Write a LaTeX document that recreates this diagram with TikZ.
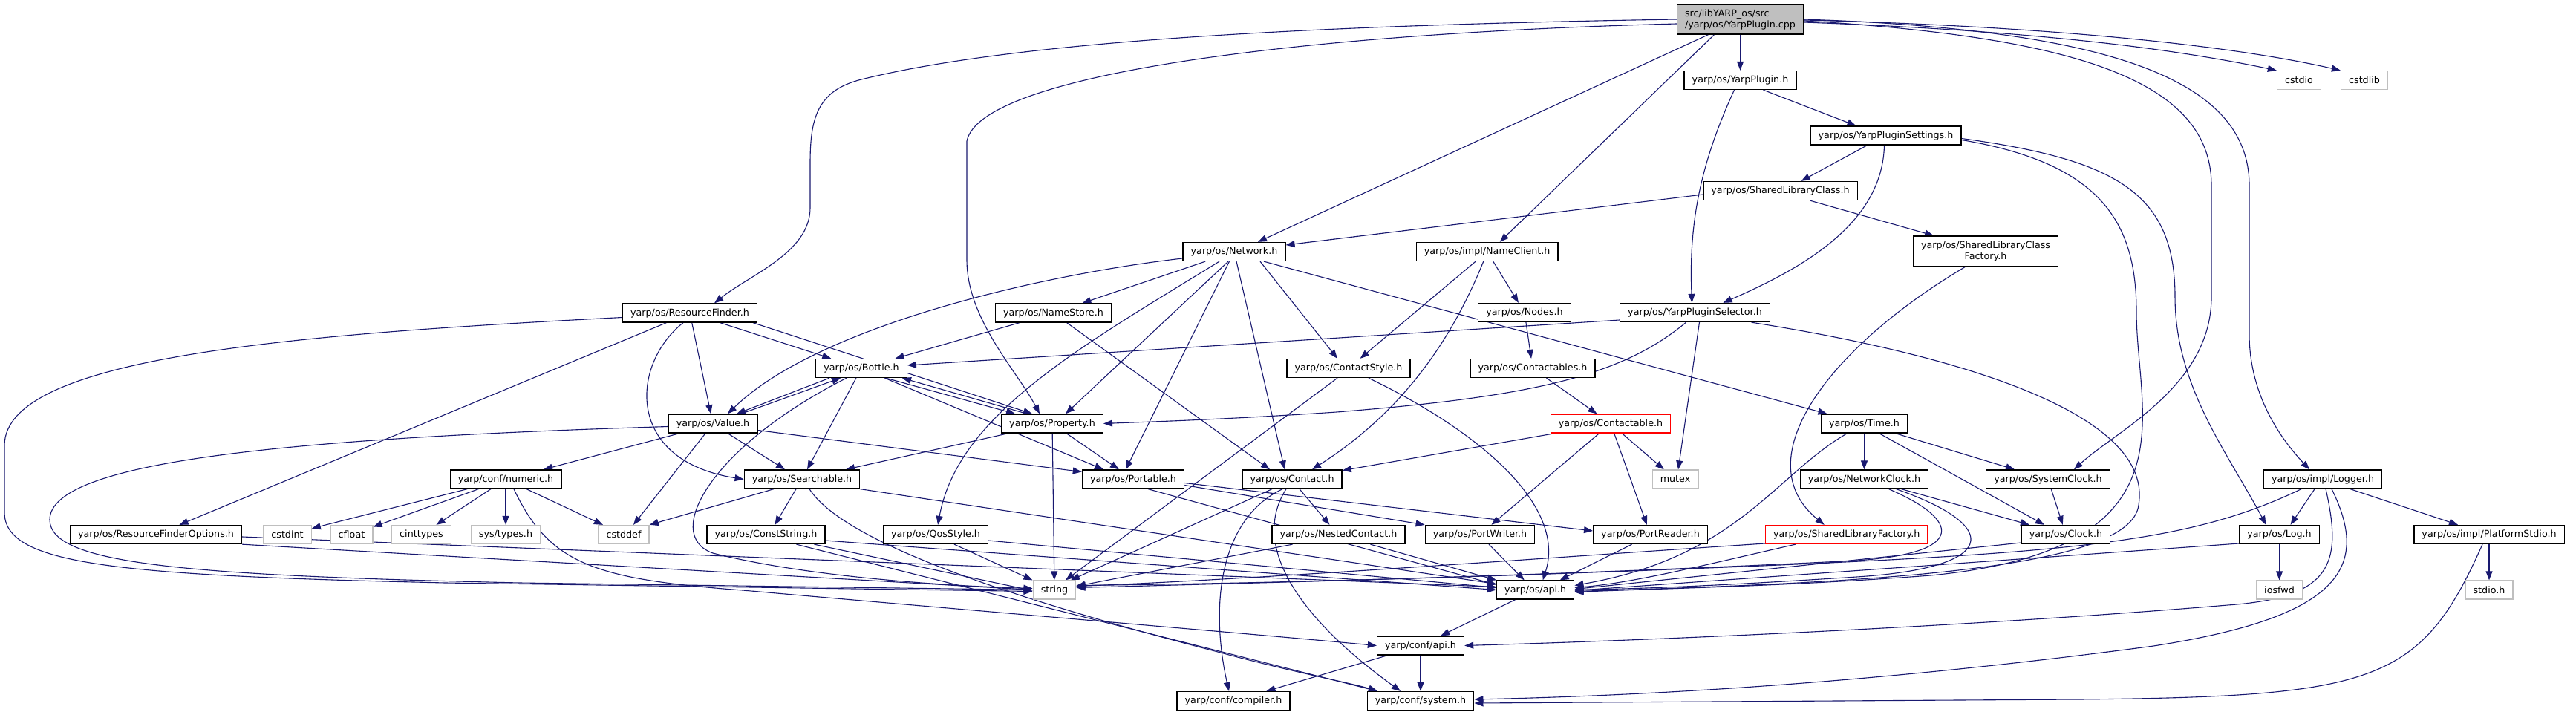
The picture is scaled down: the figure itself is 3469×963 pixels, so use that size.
\documentclass[tikz,border=0pt]{standalone}
\usepackage{fontspec}
\setmainfont{DejaVu Sans}
\usetikzlibrary{arrows.meta}
\definecolor{edgec}{HTML}{191970}
\definecolor{extgray}{HTML}{BFBFBF}
\pgfdeclarelayer{bg}
\pgfsetlayers{bg,main}
\begin{document}
\begin{tikzpicture}[x=1pt,y=-1pt,
  box/.style={draw=black, fill=white, line width=1.3pt, font=\fontsize{12.7}{15}\selectfont, inner xsep=10.6pt, inner ysep=0pt, minimum height=25pt},
  ext/.style={box, draw=extgray},
  trunc/.style={box, draw=red},
  rootbox/.style={box, fill=extgray, align=left, minimum height=40pt},
  twoline/.style={box, align=center, minimum height=41pt},
  e/.style={draw=edgec, line width=1.1pt, -{Triangle[length=12pt,width=9pt]}}]
\useasboundingbox (0,0) rectangle (3469,963);
% ---------- nodes ----------
\node[rootbox] (root) at (2343.5,26) {src/libYARP\_os/src\\/yarp/os/YarpPlugin.cpp};
\node[box] (YarpPlugin) at (2343.5,108) {yarp/os/YarpPlugin.h};
\node[ext] (cstdio) at (3096,108) {cstdio};
\node[ext] (cstdlib) at (3184,108) {cstdlib};
\node[box] (YPSettings) at (2539.5,182.5) {yarp/os/YarpPluginSettings.h};
\node[box] (SLClass) at (2397.5,257) {yarp/os/SharedLibraryClass.h};
\node[box] (Network) at (1662,339) {yarp/os/Network.h};
\node[box] (NameClient) at (2002.7,339) {yarp/os/impl/NameClient.h};
\node[twoline] (SLCFactory) at (2674,338.5) {yarp/os/SharedLibraryClass\\Factory.h};
\node[box] (RF) at (929,421.5) {yarp/os/ResourceFinder.h};
\node[box] (NameStore) at (1418.5,421.5) {yarp/os/NameStore.h};
\node[box] (Nodes) at (2053,421) {yarp/os/Nodes.h};
\node[box] (YPSelector) at (2282.5,421) {yarp/os/YarpPluginSelector.h};
\node[box] (Bottle) at (1160,496) {yarp/os/Bottle.h};
\node[box] (ContactStyle) at (1816,496) {yarp/os/ContactStyle.h};
\node[box] (Contactables) at (2064,496) {yarp/os/Contactables.h};
\node[box] (Value) at (960,570.5) {yarp/os/Value.h};
\node[box] (Property) at (1417,570.5) {yarp/os/Property.h};
\node[trunc] (Contactable) at (2169,570.5) {yarp/os/Contactable.h};
\node[box] (Time) at (2510.5,570.5) {yarp/os/Time.h};
\node[box] (numeric) at (681,645.5) {yarp/conf/numeric.h};
\node[box] (Searchable) at (1080,645.5) {yarp/os/Searchable.h};
\node[box] (Portable) at (1526,645.5) {yarp/os/Portable.h};
\node[box] (Contact) at (1740,645.5) {yarp/os/Contact.h};
\node[ext] (mutex) at (2256,645.5) {mutex};
\node[box] (NetworkClock) at (2510.5,645.5) {yarp/os/NetworkClock.h};
\node[box] (SystemClock) at (2758,645.5) {yarp/os/SystemClock.h};
\node[box] (Logger) at (3128,645.5) {yarp/os/impl/Logger.h};
\node[box] (RFOptions) at (210,720) {yarp/os/ResourceFinderOptions.h};
\node[ext] (cstdint) at (387,720) {cstdint};
\node[ext] (cfloat) at (473.5,720) {cfloat};
\node[ext] (cinttypes) at (567.5,720) {cinttypes};
\node[ext] (systypes) at (681,720) {sys/types.h};
\node[ext] (cstddef) at (840,720) {cstddef};
\node[box] (ConstString) at (1031.5,720) {yarp/os/ConstString.h};
\node[box] (QosStyle) at (1260,720) {yarp/os/QosStyle.h};
\node[box] (NestedContact) at (1802.5,720) {yarp/os/NestedContact.h};
\node[box] (PortWriter) at (1993,720) {yarp/os/PortWriter.h};
\node[box] (PortReader) at (2222.5,720) {yarp/os/PortReader.h};
\node[trunc] (SLFactory) at (2486.7,720) {yarp/os/SharedLibraryFactory.h};
\node[box] (Clock) at (2782,720) {yarp/os/Clock.h};
\node[box] (Log) at (3069.5,720) {yarp/os/Log.h};
\node[box] (PlatformStdio) at (3352,720) {yarp/os/impl/PlatformStdio.h};
\node[ext] (string) at (1420,794.5) {string};
\node[box] (api) at (2067.7,794.5) {yarp/os/api.h};
\node[ext] (iosfwd) at (3069.5,794.5) {iosfwd};
\node[ext] (stdioh) at (3352,794.5) {stdio.h};
\node[box] (confapi) at (1913,869.5) {yarp/conf/api.h};
\node[box] (compiler) at (1661,944) {yarp/conf/compiler.h};
\node[box] (system) at (1913,944) {yarp/conf/system.h};
% ---------- edges ----------
\begin{pgfonlayer}{bg}
\fill[white] (0,0) rectangle (3469,963);
% root
\draw[e] (root.west) .. controls (1700,35) and (1350,60) .. (1160,107) .. controls (1100,122) and (1091,160) .. (1091,220) -- (1091,280) .. controls (1091,340) and (1010,370) .. ([xshift=33pt]RF.north);
\draw[e] ([yshift=-6pt]root.west) .. controls (1750,45) and (1320,100) .. (1302,190) -- (1302,350) .. controls (1302,430) and (1370,500) .. ([xshift=-17pt]Property.north);
\draw[e] ([xshift=-43pt]root.south) -- ([xshift=32pt]Network.north);
\draw[e] ([xshift=-35pt]root.south) -- ([xshift=17pt]NameClient.north);
\draw[e] (root) -- (YarpPlugin);
\draw[e] ([yshift=-4pt]root.east) .. controls (2700,40) and (2900,60) .. (cstdio.north west);
\draw[e] ([yshift=-1pt]root.east) .. controls (2750,35) and (3000,60) .. (cstdlib.north west);
\draw[e] ([yshift=-2pt]root.east) .. controls (2800,50) and (2978,110) .. (2978,250) -- (2978,400) .. controls (2978,520) and (2850,580) .. ([xshift=35pt]SystemClock.north);
\draw[e] (root.east) .. controls (2850,40) and (3029,110) .. (3029,250) -- (3029,450) .. controls (3029,540) and (3080,600) .. ([xshift=-18pt]Logger.north);
% YarpPlugin
\draw[e] ([xshift=31pt]YarpPlugin.south) -- ([xshift=-40pt]YPSettings.north);
\draw[e] ([xshift=-8pt]YarpPlugin.south) .. controls (2290,220) and (2274,300) .. ([xshift=-4pt]YPSelector.north);
% YarpPluginSettings
\draw[e] ([xshift=-25pt]YPSettings.south) -- ([xshift=28pt]SLClass.north);
\draw[e] ([xshift=-2pt]YPSettings.south) .. controls (2535,300) and (2430,360) .. ([xshift=38pt]YPSelector.north);
\draw[e] ([yshift=-6pt]YPSettings.east) .. controls (2830,220) and (2877,300) .. (2877,420) .. controls (2877,560) and (2960,740) .. (2600,775) .. controls (2400,790) and (2250,792) .. ([yshift=-3pt]api.east);
\draw[e] ([yshift=-4pt]YPSettings.east) .. controls (2850,215) and (2929,260) .. (2929,400) .. controls (2929,520) and (3000,610) .. ([xshift=-18pt]Log.north);
% SharedLibraryClass
\draw[e] ([yshift=-5pt]SLClass.west) -- ([yshift=9pt]Network.east);
\draw[e] ([xshift=40pt]SLClass.south) -- ([xshift=-70pt]SLCFactory.north);
\draw[e] ([xshift=-28pt]SLCFactory.south) .. controls (2460,470) and (2350,620) .. ([xshift=-30pt]SLFactory.north);
% Network
\draw[e] ([yshift=-9pt]Network.west) .. controls (1400,370) and (1100,440) .. ([xshift=20pt]Value.north);
\draw[e] (Network) -- (NameStore);
\draw[e] ([xshift=-20pt]Network.south) .. controls (1450,470) and (1290,560) .. ([xshift=3pt]QosStyle.north);
\draw[e] ([xshift=-8pt]Network.south) -- ([xshift=18pt]Property.north);
\draw[e] (Network) -- ([xshift=-10pt]Portable.north);
\draw[e] (Network) -- ([xshift=-10pt]Contact.north);
\draw[e] ([xshift=35pt]Network.south) -- ([xshift=-15pt]ContactStyle.north);
\draw[e] ([xshift=40pt]Network.south) -- ([xshift=-50pt]Time.north);
% NameClient
\draw[e] (NameClient) -- (ContactStyle);
\draw[e] ([xshift=-5pt]NameClient.south) .. controls (1950,470) and (1880,560) .. ([xshift=27pt]Contact.north);
\draw[e] (NameClient) -- (Nodes);
% ResourceFinder
\draw[e] ([yshift=-6pt]RF.west) .. controls (400,450) and (6,480) .. (6,600) -- (6,690) .. controls (6,760) and (150,775) .. (600,785) -- ([yshift=-2pt]string.west);
\draw[e] (RF) -- (RFOptions);
\draw[e] ([xshift=-9pt]RF.south) .. controls (850,490) and (840,620) .. (Searchable.west);
\draw[e] (RF) -- (Value);
\draw[e] (RF) -- (Bottle);
\draw[e] ([xshift=85pt]RF.south) -- ([xshift=-27pt]Property.north);
% NameStore
\draw[e] (NameStore) -- (Bottle);
\draw[e] (NameStore) -- ([xshift=-30pt]Contact.north);
\draw[e] (Nodes) -- (Contactables);
% YarpPluginSelector
\draw[e] ([yshift=-10pt]YPSelector.west) -- ([yshift=4pt]Bottle.east);
\draw[e] ([xshift=-12pt]YPSelector.south) .. controls (2180,510) and (2050,535) .. (1800,555) .. controls (1650,565) and (1550,568) .. (Property.east);
\draw[e] ([xshift=6pt]YPSelector.south) -- ([xshift=4pt]mutex.north);
\draw[e] ([xshift=76pt]YPSelector.south) .. controls (2650,480) and (2900,560) .. (2880,680) .. controls (2870,770) and (2500,785) .. ([yshift=-2pt]api.east);
% Bottle
\draw[e] ([xshift=-43pt]Bottle.south) -- ([xshift=32pt]Value.north);
\draw[e] ([xshift=38pt]Value.north) -- ([xshift=-28pt]Bottle.south);
\draw[e] ([xshift=33pt]Bottle.south) -- ([xshift=-50pt]Property.north);
\draw[e] ([xshift=-34pt]Property.north) -- ([xshift=55pt]Bottle.south);
\draw[e] (Bottle) -- (Searchable);
\draw[e] (Bottle) -- ([xshift=-40pt]Portable.north);
\draw[e] ([xshift=-20pt]Bottle.south) .. controls (960,600) and (890,720) .. (960,745) .. controls (1100,780) and (1300,790) .. ([yshift=2pt]string.west);
% ContactStyle, Contactables, Contactable
\draw[e] ([xshift=-15pt]ContactStyle.south) -- ([xshift=15pt]string.north);
\draw[e] ([xshift=27pt]ContactStyle.south) .. controls (1990,580) and (2110,680) .. ([xshift=10pt]api.north);
\draw[e] (Contactables) -- (Contactable);
\draw[e] (Contactable) -- (Contact);
\draw[e] (Contactable) -- (PortWriter);
\draw[e] (Contactable) -- (PortReader);
\draw[e] (Contactable) -- (mutex);
% Value
\draw[e] ([yshift=-4pt]Value.west) .. controls (400,590) and (67,620) .. (67,700) .. controls (67,760) and (250,775) .. (700,785) -- (string.west);
\draw[e] ([xshift=-45pt]Value.south) -- ([xshift=51pt]numeric.north);
\draw[e] ([xshift=-10pt]Value.south) -- ([xshift=13pt]cstddef.north);
\draw[e] ([xshift=20pt]Value.south) -- ([xshift=-23pt]Searchable.north);
\draw[e] ([yshift=-9pt]Value.east) -- ([yshift=10pt]Portable.west);
% Property
\draw[e] (Property) -- (Searchable);
\draw[e] (Property) -- (string);
\draw[e] (Property) -- (Portable);
% Time
\draw[e] (Time) -- (NetworkClock);
\draw[e] ([xshift=42pt]Time.south) -- ([xshift=-45pt]SystemClock.north);
\draw[e] ([xshift=20pt]Time.south) -- ([xshift=-29pt]Clock.north);
\draw[e] ([xshift=-23pt]Time.south) .. controls (2390,640) and (2340,750) .. ([yshift=6pt]api.east);
% numeric
\draw[e] (numeric) -- (cstdint);
\draw[e] (numeric) -- (cfloat);
\draw[e] (numeric) -- (cinttypes);
\draw[e] (numeric) -- (systypes);
\draw[e] (numeric) -- (cstddef);
\draw[e] ([xshift=11pt]numeric.south) .. controls (740,760) and (800,780) .. (1000,795) .. controls (1400,830) and (1700,855) .. (confapi.west);
% Searchable
\draw[e] ([xshift=-38pt]Searchable.south) -- (cstddef.north east);
\draw[e] ([xshift=-8pt]Searchable.south) -- ([xshift=12pt]ConstString.north);
\draw[e] (Searchable.south east) -- ([yshift=8pt]api.west);
\draw[e] ([xshift=10pt]Searchable.south) .. controls (1130,720) and (1300,790) .. (1640,878) .. controls (1740,905) and (1820,920) .. ([xshift=-58pt]system.north);
% Portable
\draw[e] ([yshift=-8pt]Portable.east) -- (PortWriter.north west);
\draw[e] ([yshift=-5pt]Portable.east) -- ([yshift=5pt]PortReader.west);
\draw[e] ([xshift=20pt]Portable.south) -- ([yshift=7pt]api.west);
% Contact
\draw[e] ([xshift=-27pt]Contact.south) -- ([xshift=22pt]string.north);
\draw[e] ([xshift=-13pt]Contact.south) .. controls (1640,700) and (1630,820) .. ([xshift=-6pt]compiler.north);
\draw[e] ([xshift=-8pt]Contact.south) .. controls (1680,740) and (1760,840) .. ([xshift=-27pt]system.north);
\draw[e] ([xshift=10pt]Contact.south) -- ([xshift=-12pt]NestedContact.north);
% NetworkClock, SystemClock, Clock
\draw[e] ([xshift=33pt]NetworkClock.south) .. controls (2640,700) and (2650,745) .. (2500,755) .. controls (2100,775) and (1700,785) .. ([yshift=3pt]string.east);
\draw[e] ([xshift=43pt]NetworkClock.south) .. controls (2700,710) and (2690,765) .. (2500,777) .. controls (2300,790) and (2200,793) .. (api.east);
\draw[e] ([xshift=50pt]NetworkClock.south) -- ([xshift=-49pt]Clock.north);
\draw[e] (SystemClock) -- (Clock);
\draw[e] ([yshift=-11pt]Clock.west) -- ([yshift=1pt]api.east);
% Logger, Log, PlatformStdio
\draw[e] ([xshift=-11pt]Logger.south) -- ([xshift=15pt]Log.north);
\draw[e] ([xshift=37pt]Logger.south) -- ([xshift=-42pt]PlatformStdio.north);
\draw[e] ([xshift=-29pt]Logger.south) .. controls (2950,730) and (2800,745) .. (2300,765) .. controls (2000,777) and (1700,786) .. ([yshift=6pt]string.east);
\draw[e] ([xshift=4pt]Logger.south) .. controls (3155,760) and (3140,805) .. (3000,815) .. controls (2700,840) and (2300,860) .. (confapi.east);
\draw[e] ([xshift=12pt]Logger.south) .. controls (3190,760) and (3160,830) .. (2900,870) .. controls (2600,910) and (2300,935) .. ([yshift=2pt]system.east);
\draw[e] ([yshift=-12pt]Log.west) -- ([yshift=-1pt]api.east);
\draw[e] (Log) -- (iosfwd);
\draw[e] (PlatformStdio) -- (stdioh);
\draw[e] ([xshift=-9pt]PlatformStdio.south) .. controls (3260,920) and (3200,938) .. (2800,942) -- ([yshift=-3pt]system.east);
% SharedLibraryFactory
\draw[e] ([yshift=-12pt]SLFactory.west) .. controls (2100,750) and (1700,780) .. ([yshift=5pt]string.east);
\draw[e] ([xshift=-69pt]SLFactory.south) .. controls (2300,760) and (2200,785) .. ([yshift=3pt]api.east);
% row 9 leaves
\draw[e] (RFOptions.south east) -- (string.west);
\draw[e] ([yshift=-3pt]RFOptions.east) -- ([yshift=4pt]api.west);
\draw[e] ([xshift=41pt]ConstString.south) -- ([xshift=-58pt]system.north);
\draw[e] ([xshift=65pt]ConstString.south) -- ([yshift=-1pt]string.west);
\draw[e] ([yshift=-8pt]ConstString.east) -- (api.west);
\draw[e] ([xshift=25pt]QosStyle.south) -- (string.north west);
\draw[e] ([yshift=-8pt]QosStyle.east) -- ([yshift=3pt]api.west);
\draw[e] ([xshift=-62pt]NestedContact.south) -- ([yshift=5pt]string.east);
\draw[e] ([xshift=43pt]NestedContact.south) -- (api.north west);
\draw[e] ([xshift=12pt]PortWriter.south) -- ([xshift=-15pt]api.north);
\draw[e] ([xshift=-25pt]PortReader.south) -- ([xshift=33pt]api.north);
% api
\draw[e] (api) -- (confapi);
\draw[e] (confapi) -- (compiler);
\draw[e] (confapi) -- (system);
\end{pgfonlayer}
\end{tikzpicture}
\end{document}
